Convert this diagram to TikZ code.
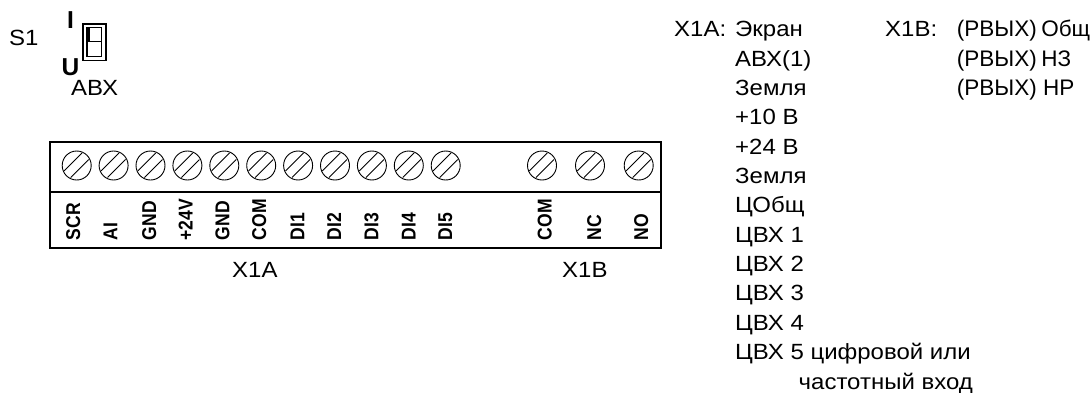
\documentclass[tikz,border=0pt]{standalone}
\usepackage{fontspec}
\setmainfont[FakeStretch=1.09]{Liberation Sans}
\newfontfamily\plainf{Liberation Sans}
\newfontfamily\termf[FakeStretch=0.877]{Liberation Sans}
\usetikzlibrary{calc}
\begin{document}
\begin{tikzpicture}[x=1pt,y=-1pt,
  txt/.style={inner sep=0pt,anchor=base west,font=\fontsize{22}{22}\selectfont},
  rvy/.style={inner sep=0pt,anchor=base west,font=\plainf\fontsize{22.5}{22.5}\selectfont},
  bigb/.style={inner sep=0pt,anchor=base,font=\plainf\fontsize{24.5}{24.5}\selectfont\bfseries},
  term/.style={inner sep=0pt,rotate=90,anchor=base west,font=\termf\fontsize{20}{20}\selectfont\bfseries},
  screw/.style={circle,draw,line width=0.9pt,minimum size=29pt,inner sep=0pt},
  slot/.style={line width=0.9pt}]
\useasboundingbox (0,0) rectangle (1090,392);
\draw[line width=2.2pt] (50,142) rectangle (661,248);
\draw[line width=2.2pt] (50,192) -- (661,192);
\foreach \n/\x/\b/\t in {a/76.7/80/SCR,b/113.6/117.3/AI,c/150.5/156/GND,d/187.4/192.7/+24V,e/224.3/229.3/GND,f/261.2/266/COM,g/298.1/304.3/DI1,h/335/341/DI2,i/371.9/378.4/DI3,j/408.8/415.7/DI4,k/445.7/452/DI5,l/542/551.7/COM,m/590/601/NC,n/638.7/648/NO}{
  \node[screw] (s\n) at (\x,165.5) {};
  \draw[slot] ($(s\n.center)+(-12.6,5.4)$) -- ($(s\n.center)+(5.4,-12.6)$);
  \draw[slot] ($(s\n.center)+(-6,12)$) -- ($(s\n.center)+(12,-6)$);
  \node[term] (t\n) at (\b,240.5) {\t};
}
\node[txt] (x1a) at (232,277) {X1A};
\node[txt] (x1b) at (562,277) {X1B};
\node[txt] (s1) at (9,45.5) {S1};
\node[bigb] (ii) at (70.5,28) {I};
\node[bigb] (uu) at (70.5,75) {U};
\node[txt] (abx) at (71,95) {АВХ};
\draw[line width=1.6pt] (82.8,24) rectangle (106,60.3);
\draw[line width=1.3pt] (87,27.8) rectangle (101.5,56.3);
\draw[line width=1.3pt] (87,41.7) -- (101.5,41.7);
\fill (87,28) rectangle (90,42);
\node[txt] (h1) at (674,36.7) {X1A:};
\foreach \n/\y/\t in {a/36.7/Экран,b/66/АВХ(1),c/95.4/Земля,d/124.8/+10 В,e/154.1/+24 В,f/183.5/Земля,g/212.8/ЦОбщ,h/242.2/ЦВХ 1,i/271.6/ЦВХ 2,j/300.9/ЦВХ 3,k/330.3/ЦВХ 4,l/359.6/ЦВХ 5 цифровой или}{
  \node[txt] (l\n) at (735,\y) {\t};
}
\node[txt] (lm) at (798.5,389) {частотный вход};
\node[txt] (h2) at (885,36.7) {X1B:};
\node[rvy] (r1) at (956.7,36.7) {(РВЫХ)\kern 4.5pt Общ};
\node[rvy] (r2) at (956.7,66) {(РВЫХ)\kern 4.5pt НЗ};
\node[rvy] (r3) at (956.7,95.4) {(РВЫХ) НР};
\end{tikzpicture}
\end{document}
